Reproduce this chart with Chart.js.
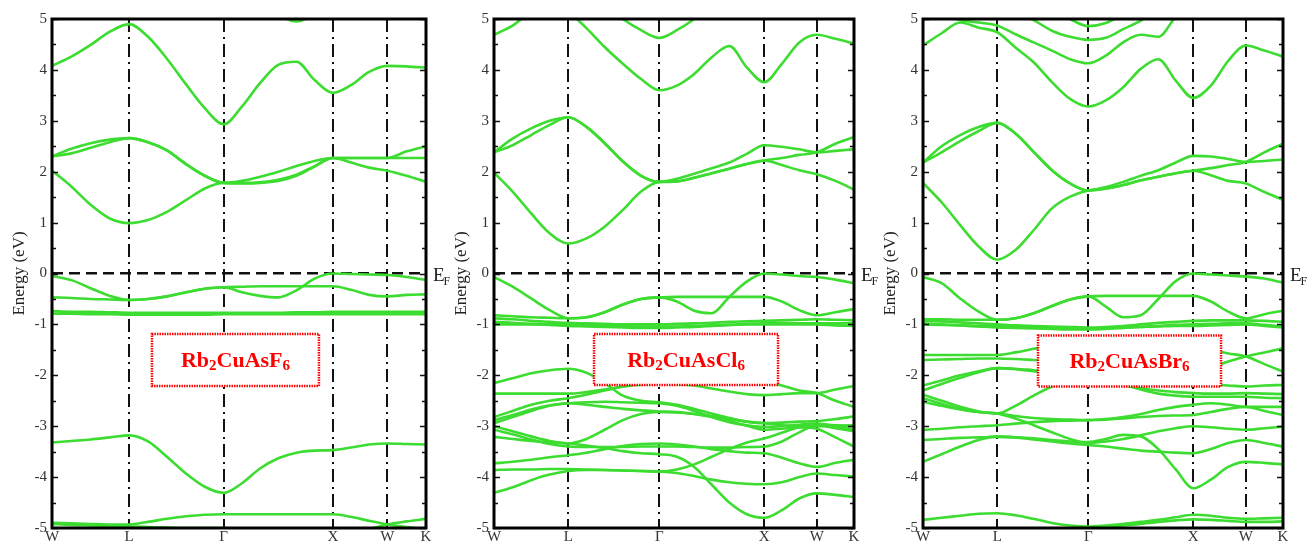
<!DOCTYPE html>
<html>
<head>
<meta charset="utf-8">
<script src="https://cdn.jsdelivr.net/npm/chart.js@4.4.1/dist/chart.umd.min.js"></script>
<style>
    html, body { margin: 0; padding: 0; background: #fff; }
    #wrap { position: relative; width: 1316px; height: 545px; overflow: hidden; }
    #wrap canvas { position: absolute; top: 0; }
</style>
</head>
<body>
<div id="wrap">
    <canvas id="c-f6" width="470" height="545" style="left:0px"></canvas>
    <canvas id="c-cl6" width="470" height="545" style="left:440px"></canvas>
    <canvas id="c-br6" width="447" height="545" style="left:869px"></canvas>
</div>
<script>
// k-path W-L-Γ-X-W-K (units of 2π/a), sample points shared by every band
const kGrid = [0, 0.177, 0.354, 0.530, 0.707, 0.880, 1.053, 1.227, 1.400, 1.573, 1.740,
               1.906, 2.073, 2.240, 2.406, 2.573, 2.740, 2.906, 3.073, 3.250, 3.427];
const kTicks = [0, 0.707, 1.573, 2.573, 3.073, 3.427];
const kLabels = ['W', 'L', 'Γ', 'X', 'W', 'K'];
const energyTicks = [-5, -4, -3, -2, -1, 0, 1, 2, 3, 4, 5];

// Rb2CuAsF6
const f6Conduction = [
    [2.30, 2.45, 2.56, 2.63, 2.66, 2.58, 2.42, 2.15, 1.92, 1.78, 1.82, 1.90, 2.00, 2.11, 2.21, 2.27, 2.27, 2.27, 2.27, 2.27, 2.27],
    [2.30, 2.36, 2.47, 2.58, 2.66, 2.58, 2.42, 2.15, 1.92, 1.78, 1.77, 1.78, 1.82, 1.92, 2.10, 2.27, 2.18, 2.08, 2.02, 1.92, 1.80],
    [2.02, 1.71, 1.35, 1.08, 0.99, 1.05, 1.21, 1.44, 1.67, 1.78, 1.78, 1.79, 1.84, 1.94, 2.11, 2.27, 2.27, 2.27, 2.27, 2.40, 2.50],
    [4.08, 4.26, 4.49, 4.75, 4.90, 4.65, 4.22, 3.72, 3.25, 2.93, 3.28, 3.74, 4.10, 4.16, 3.80, 3.55, 3.70, 3.96, 4.08, 4.07, 4.04],
    [5.3, 5.3, 5.3, 5.3, 5.3, 5.3, 5.3, 5.3, 5.3, 5.3, 5.3, 5.25, 5.08, 4.95, 5.1, 5.3, 5.3, 5.3, 5.3, 5.3, 5.3]
];
const f6Valence = [
    [-0.05, -0.13, -0.29, -0.44, -0.52, -0.50, -0.45, -0.37, -0.30, -0.27, -0.37, -0.44, -0.47, -0.33, -0.10, 0.00, -0.01, -0.02, -0.03, -0.07, -0.13],
    [-0.47, -0.48, -0.50, -0.51, -0.52, -0.50, -0.45, -0.37, -0.30, -0.27, -0.26, -0.25, -0.25, -0.25, -0.25, -0.25, -0.32, -0.42, -0.45, -0.42, -0.41],
    [-0.74, -0.75, -0.75, -0.76, -0.77, -0.77, -0.77, -0.77, -0.77, -0.77, -0.77, -0.77, -0.77, -0.76, -0.76, -0.75, -0.75, -0.75, -0.75, -0.75, -0.75],
    [-0.79, -0.79, -0.80, -0.80, -0.81, -0.81, -0.81, -0.81, -0.81, -0.80, -0.80, -0.80, -0.80, -0.80, -0.80, -0.80, -0.80, -0.80, -0.80, -0.80, -0.80],
    [-3.32, -3.29, -3.26, -3.22, -3.18, -3.30, -3.60, -3.93, -4.19, -4.31, -4.12, -3.83, -3.63, -3.52, -3.48, -3.47, -3.42, -3.36, -3.34, -3.35, -3.36],
    [-4.90, -4.91, -4.92, -4.93, -4.93, -4.88, -4.82, -4.77, -4.74, -4.73, -4.73, -4.73, -4.73, -4.73, -4.73, -4.73, -4.78, -4.86, -4.93, -4.98, -5.03],
    [-4.92, -4.94, -4.95, -4.96, -4.97, -4.98, -4.99, -5.00, -5.00, -5.00, -5.02, -5.05, -5.10, -5.15, -5.18, -5.20, -5.12, -5.02, -4.93, -4.87, -4.82]
];

// Rb2CuAsCl6
const cl6Conduction = [
    [2.38, 2.65, 2.85, 3.00, 3.07, 2.88, 2.56, 2.20, 1.92, 1.80, 1.86, 1.96, 2.07, 2.18, 2.35, 2.52, 2.49, 2.44, 2.38, 2.41, 2.44],
    [2.38, 2.52, 2.72, 2.92, 3.07, 2.88, 2.56, 2.20, 1.92, 1.80, 1.81, 1.88, 1.97, 2.06, 2.15, 2.22, 2.13, 2.03, 1.95, 1.82, 1.65],
    [1.98, 1.61, 1.18, 0.79, 0.59, 0.69, 0.92, 1.25, 1.61, 1.80, 1.81, 1.88, 1.97, 2.06, 2.15, 2.22, 2.27, 2.33, 2.38, 2.55, 2.68],
    [5.6, 5.6, 5.6, 5.5, 5.16, 4.82, 4.45, 4.12, 3.82, 3.60, 3.69, 3.92, 4.25, 4.47, 4.05, 3.76, 4.12, 4.54, 4.69, 4.61, 4.52],
    [4.69, 4.87, 5.15, 5.35, 5.5, 5.6, 5.6, 5.6, 5.6, 5.6, 5.6, 5.6, 5.6, 5.6, 5.6, 5.6, 5.6, 5.6, 5.6, 5.6, 5.6],
    [5.6, 5.6, 5.6, 5.6, 5.6, 5.5, 5.3, 5.0, 4.78, 4.63, 4.78, 5.0, 5.3, 5.5, 5.6, 5.6, 5.6, 5.6, 5.6, 5.6, 5.6]
];
const cl6Valence = [
    [-0.07, -0.26, -0.49, -0.72, -0.88, -0.86, -0.76, -0.61, -0.50, -0.47, -0.55, -0.73, -0.78, -0.46, -0.16, 0.00, -0.02, -0.05, -0.07, -0.12, -0.19],
    [-0.82, -0.84, -0.86, -0.87, -0.88, -0.86, -0.76, -0.61, -0.50, -0.47, -0.46, -0.46, -0.46, -0.46, -0.46, -0.46, -0.55, -0.72, -0.82, -0.76, -0.70],
    [-0.88, -0.90, -0.93, -0.95, -0.97, -0.98, -0.99, -1.00, -1.00, -1.00, -0.99, -0.98, -0.97, -0.95, -0.94, -0.93, -0.92, -0.91, -0.90, -0.91, -0.92],
    [-0.95, -0.97, -0.99, -1.01, -1.03, -1.04, -1.05, -1.06, -1.07, -1.07, -1.06, -1.05, -1.03, -1.01, -0.99, -0.98, -0.98, -0.98, -0.98, -0.98, -0.98],
    [-1.00, -1.00, -1.00, -1.00, -1.00, -1.01, -1.02, -1.03, -1.04, -1.04, -1.04, -1.03, -1.02, -1.01, -1.00, -1.00, -1.00, -1.00, -1.00, -1.02, -1.03],
    [-2.15, -2.06, -1.96, -1.90, -1.87, -1.95, -2.15, -2.40, -2.50, -2.53, -2.58, -2.66, -2.75, -2.84, -2.91, -2.94, -2.93, -2.91, -2.90, -2.86, -2.81],
    [-2.36, -2.36, -2.36, -2.36, -2.36, -2.33, -2.28, -2.22, -2.18, -2.16, -2.17, -2.20, -2.26, -2.32, -2.37, -2.39, -2.37, -2.35, -2.35, -2.28, -2.21],
    [-2.82, -2.70, -2.58, -2.50, -2.45, -2.38, -2.30, -2.22, -2.17, -2.15, -2.14, -2.13, -2.12, -2.12, -2.12, -2.13, -2.20, -2.30, -2.35, -2.50, -2.62],
    [-2.88, -2.78, -2.67, -2.59, -2.55, -2.53, -2.52, -2.53, -2.54, -2.55, -2.60, -2.70, -2.82, -2.92, -2.98, -3.01, -3.00, -2.97, -2.95, -3.00, -3.07],
    [-2.94, -2.82, -2.70, -2.60, -2.55, -2.58, -2.62, -2.66, -2.69, -2.71, -2.72, -2.76, -2.82, -2.90, -2.99, -3.07, -3.05, -3.02, -3.00, -2.99, -2.98],
    [-3.00, -3.10, -3.20, -3.29, -3.34, -3.25, -3.07, -2.88, -2.76, -2.72, -2.73, -2.76, -2.80, -2.86, -2.91, -2.94, -2.98, -3.02, -3.05, -3.22, -3.40],
    [-3.07, -3.16, -3.26, -3.35, -3.40, -3.41, -3.41, -3.41, -3.40, -3.40, -3.40, -3.41, -3.42, -3.42, -3.41, -3.40, -3.30, -3.12, -2.98, -3.04, -3.10],
    [-3.21, -3.25, -3.29, -3.32, -3.34, -3.38, -3.43, -3.49, -3.53, -3.55, -3.60, -3.80, -4.15, -4.50, -4.73, -4.80, -4.65, -4.42, -4.32, -4.35, -4.39],
    [-3.73, -3.70, -3.66, -3.61, -3.57, -3.52, -3.45, -3.39, -3.35, -3.34, -3.36, -3.40, -3.45, -3.49, -3.52, -3.53, -3.62, -3.73, -3.80, -3.72, -3.66],
    [-3.86, -3.85, -3.85, -3.84, -3.84, -3.85, -3.86, -3.87, -3.88, -3.89, -3.92, -3.98, -4.05, -4.10, -4.13, -4.14, -4.10, -4.00, -3.93, -3.96, -3.99],
    [-4.31, -4.20, -4.06, -3.95, -3.88, -3.86, -3.86, -3.87, -3.88, -3.89, -3.85, -3.75, -3.60, -3.45, -3.32, -3.24, -3.13, -3.02, -2.97, -2.98, -3.00]
];

// Rb2CuAsBr6
const br6Conduction = [
    [2.18, 2.50, 2.72, 2.88, 2.96, 2.75, 2.39, 2.03, 1.77, 1.63, 1.70, 1.80, 1.92, 2.03, 2.18, 2.31, 2.30, 2.25, 2.19, 2.21, 2.24],
    [2.18, 2.38, 2.60, 2.80, 2.96, 2.75, 2.39, 2.03, 1.77, 1.63, 1.67, 1.74, 1.83, 1.90, 1.97, 2.02, 1.93, 1.82, 1.77, 1.60, 1.45],
    [1.78, 1.40, 0.95, 0.53, 0.27, 0.46, 0.85, 1.28, 1.51, 1.63, 1.67, 1.74, 1.83, 1.90, 1.97, 2.02, 2.07, 2.13, 2.19, 2.38, 2.55],
    [4.48, 4.72, 4.93, 4.83, 4.74, 4.44, 4.15, 3.76, 3.43, 3.28, 3.40, 3.66, 4.02, 4.21, 3.79, 3.45, 3.69, 4.18, 4.48, 4.38, 4.26],
    [5.3, 5.1, 4.98, 4.93, 4.87, 4.70, 4.54, 4.38, 4.21, 4.13, 4.28, 4.54, 4.69, 4.65, 5.05, 5.4, 5.6, 5.6, 5.6, 5.6, 5.6],
    [5.6, 5.6, 5.5, 5.4, 5.3, 5.15, 4.98, 4.77, 4.65, 4.59, 4.63, 4.80, 4.97, 5.2, 5.4, 5.6, 5.6, 5.6, 5.6, 5.6, 5.6],
    [5.6, 5.6, 5.6, 5.6, 5.5, 5.4, 5.3, 5.2, 5.0, 4.86, 4.92, 5.1, 5.3, 5.5, 5.6, 5.6, 5.6, 5.6, 5.6, 5.6, 5.6]
];
const br6Valence = [
    [-0.07, -0.19, -0.49, -0.75, -0.91, -0.88, -0.78, -0.64, -0.51, -0.45, -0.65, -0.86, -0.82, -0.50, -0.15, 0.00, -0.02, -0.04, -0.06, -0.10, -0.18],
    [-0.90, -0.90, -0.91, -0.91, -0.91, -0.88, -0.78, -0.64, -0.51, -0.45, -0.44, -0.44, -0.44, -0.44, -0.44, -0.44, -0.55, -0.75, -0.88, -0.80, -0.73],
    [-0.92, -0.94, -0.96, -0.98, -1.00, -1.02, -1.03, -1.04, -1.05, -1.06, -1.05, -1.03, -1.00, -0.97, -0.95, -0.93, -0.92, -0.92, -0.92, -0.93, -0.95],
    [-0.98, -1.00, -1.02, -1.04, -1.06, -1.07, -1.08, -1.09, -1.10, -1.10, -1.09, -1.07, -1.05, -1.03, -1.01, -1.00, -0.99, -0.98, -0.98, -1.01, -1.04],
    [-1.00, -1.01, -1.02, -1.03, -1.03, -1.04, -1.05, -1.06, -1.07, -1.08, -1.07, -1.06, -1.05, -1.04, -1.03, -1.03, -1.02, -1.01, -1.00, -1.03, -1.06],
    [-1.60, -1.60, -1.60, -1.60, -1.60, -1.55, -1.48, -1.42, -1.40, -1.40, -1.40, -1.40, -1.40, -1.40, -1.42, -1.45, -1.50, -1.57, -1.63, -1.78, -1.93],
    [-1.70, -1.69, -1.68, -1.67, -1.67, -1.68, -1.70, -1.72, -1.74, -1.75, -1.78, -1.82, -1.87, -1.92, -1.95, -1.95, -1.85, -1.73, -1.63, -1.55, -1.47],
    [-2.20, -2.10, -2.00, -1.92, -1.86, -1.87, -1.90, -1.93, -1.95, -1.96, -1.98, -2.02, -2.07, -2.12, -2.15, -2.16, -2.18, -2.20, -2.22, -2.20, -2.19],
    [-2.30, -2.17, -2.05, -1.94, -1.86, -1.88, -1.92, -1.98, -2.02, -2.05, -2.10, -2.18, -2.25, -2.30, -2.33, -2.35, -2.36, -2.36, -2.35, -2.36, -2.37],
    [-2.38, -2.50, -2.62, -2.71, -2.75, -2.60, -2.40, -2.22, -2.10, -2.05, -2.10, -2.18, -2.28, -2.36, -2.40, -2.42, -2.42, -2.42, -2.42, -2.44, -2.45],
    [-2.45, -2.56, -2.66, -2.72, -2.75, -2.80, -2.84, -2.86, -2.87, -2.88, -2.86, -2.82, -2.76, -2.68, -2.62, -2.58, -2.55, -2.58, -2.62, -2.62, -2.62],
    [-2.52, -2.60, -2.67, -2.72, -2.75, -2.85, -2.98, -3.12, -3.25, -3.33, -3.30, -3.25, -3.18, -3.10, -3.04, -3.00, -3.02, -3.05, -3.07, -3.04, -3.01],
    [-3.07, -3.05, -3.02, -3.00, -2.98, -2.95, -2.92, -2.90, -2.89, -2.88, -2.87, -2.85, -2.82, -2.80, -2.79, -2.78, -2.72, -2.66, -2.62, -2.70, -2.78],
    [-3.27, -3.25, -3.23, -3.22, -3.21, -3.22, -3.24, -3.27, -3.30, -3.31, -3.25, -3.17, -3.20, -3.45, -3.85, -4.22, -4.05, -3.80, -3.70, -3.72, -3.75],
    [-3.70, -3.55, -3.40, -3.27, -3.20, -3.22, -3.26, -3.30, -3.34, -3.37, -3.40, -3.44, -3.48, -3.50, -3.52, -3.53, -3.45, -3.33, -3.27, -3.33, -3.40],
    [-4.84, -4.80, -4.76, -4.72, -4.71, -4.75, -4.82, -4.90, -4.95, -4.97, -4.95, -4.92, -4.88, -4.84, -4.79, -4.74, -4.76, -4.80, -4.82, -4.81, -4.80],
    [-5.20, -5.20, -5.18, -5.16, -5.15, -5.12, -5.08, -5.05, -5.02, -5.00, -4.98, -4.95, -4.92, -4.88, -4.85, -4.83, -4.84, -4.86, -4.88, -4.88, -4.87]
];

const FONT = "'Liberation Serif', 'Times New Roman', serif";
const GREEN = '#3cdc30';
Chart.defaults.font.family = FONT;

// label drawn as [text, isSubscript] runs
const panels = [
    { id: 'c-f6', yWidth: 52, padRight: 44, titlePad: 9,
      bands: f6Conduction.concat(f6Valence),
      name: [['Rb', 0], ['2', 1], ['CuAsF', 0], ['6', 1]], boxAt: [1.681, -1.70], boxSize: [167, 52] },
    { id: 'c-cl6', yWidth: 54, padRight: 56, titlePad: 11,
      bands: cl6Conduction.concat(cl6Valence),
      name: [['Rb', 0], ['2', 1], ['CuAsCl', 0], ['6', 1]], boxAt: [1.828, -1.69], boxSize: [184, 51] },
    { id: 'c-br6', yWidth: 54, padRight: 33, titlePad: 11,
      bands: br6Conduction.concat(br6Valence),
      name: [['Rb', 0], ['2', 1], ['CuAsBr', 0], ['6', 1]], boxAt: [1.966, -1.72], boxSize: [183, 51] }
];

const framePlugin = {
    id: 'frame',
    afterDatasetsDraw(chart, args, opts) {
        const { ctx, chartArea: a, scales: { x, y } } = chart;
        ctx.save();

        // inward tick marks on left and right
        ctx.strokeStyle = '#111';
        ctx.lineWidth = 1.5;
        ctx.beginPath();
        for (let v = -5; v <= 5; v += 0.5) {
            const py = Math.round(y.getPixelForValue(v)) + 0.5;
            const len = Number.isInteger(v) ? 6 : 4;
            ctx.moveTo(a.left, py); ctx.lineTo(a.left + len, py);
            ctx.moveTo(a.right, py); ctx.lineTo(a.right - len, py);
        }
        ctx.stroke();

        // frame
        ctx.lineWidth = 3;
        ctx.strokeStyle = '#000';
        ctx.strokeRect(a.left, a.top, a.right - a.left, a.bottom - a.top);

        // E_F label
        const y0 = y.getPixelForValue(0);
        ctx.fillStyle = '#222';
        ctx.textBaseline = 'alphabetic';
        ctx.textAlign = 'left';
        ctx.font = '19px ' + FONT;
        ctx.fillText('E', a.right + 7, y0 + 7);
        const ew = ctx.measureText('E').width;
        ctx.font = '12px ' + FONT;
        ctx.fillText('F', a.right + 7 + ew - 1, y0 + 11);

        // compound label box
        const p = opts.panel;
        const cx = x.getPixelForValue(p.boxAt[0]);
        const cy = y.getPixelForValue(p.boxAt[1]);
        const [bw, bh] = p.boxSize;
        ctx.fillStyle = '#fff';
        ctx.fillRect(cx - bw / 2, cy - bh / 2, bw, bh);
        ctx.strokeStyle = '#ff0000';
        ctx.lineWidth = 2.5;
        ctx.setLineDash([1.5, 1]);
        ctx.strokeRect(cx - bw / 2, cy - bh / 2, bw, bh);
        ctx.setLineDash([]);

        const mainFont = 'bold 22px ' + FONT;
        const subFont = 'bold 15px ' + FONT;
        let total = 0;
        p.name.forEach(([t, sub]) => {
            ctx.font = sub ? subFont : mainFont;
            total += ctx.measureText(t).width;
        });
        let tx = cx - total / 2;
        ctx.fillStyle = '#ff0000';
        p.name.forEach(([t, sub]) => {
            ctx.font = sub ? subFont : mainFont;
            ctx.fillText(t, tx, cy + 7 + (sub ? 3 : 0));
            tx += ctx.measureText(t).width;
        });
        ctx.restore();
    }
};

panels.forEach(p => {
    const datasets = p.bands.map(b => ({
        data: kGrid.map((k, i) => ({ x: k, y: b[i] })),
        borderColor: GREEN,
        borderWidth: 2.6,
        pointRadius: 0,
        fill: false,
        cubicInterpolationMode: 'monotone'
    }));

    new Chart(document.getElementById(p.id), {
        type: 'line',
        data: { datasets },
        options: {
            responsive: false,
            animation: false,
            events: [],
            layout: { padding: { left: 0, right: p.padRight, top: 19, bottom: 0 } },
            plugins: {
                legend: { display: false },
                tooltip: { enabled: false },
                frame: { panel: p }
            },
            scales: {
                x: {
                    type: 'linear',
                    min: kTicks[0],
                    max: kTicks[kTicks.length - 1],
                    afterBuildTicks: (scale) => { scale.ticks = kTicks.map(v => ({ value: v })); },
                    afterFit: (scale) => { scale.height = 17; },
                    ticks: {
                        autoSkip: false,
                        maxRotation: 0,
                        padding: 0,
                        color: '#333',
                        font: { size: 15 },
                        callback: (v, i) => kLabels[i]
                    },
                    grid: {
                        drawTicks: false,
                        lineWidth: 2,
                        color: (c) => (c.index > 0 && c.index < kTicks.length - 1) ? '#111' : 'rgba(0,0,0,0)'
                    },
                    border: { display: false, dash: [13, 5, 2, 5] }
                },
                y: {
                    min: -5,
                    max: 5,
                    afterBuildTicks: (scale) => { scale.ticks = energyTicks.map(v => ({ value: v })); },
                    afterFit: (scale) => { scale.width = p.yWidth; },
                    ticks: {
                        padding: 5,
                        color: '#333',
                        font: { size: 15 }
                    },
                    grid: {
                        drawTicks: false,
                        lineWidth: 2.5,
                        color: (c) => (c.tick && c.tick.value === 0) ? '#111' : 'rgba(0,0,0,0)'
                    },
                    border: { display: false, dash: [11, 6] },
                    title: {
                        display: true,
                        text: 'Energy (eV)',
                        color: '#222',
                        font: { size: 17 },
                        padding: { top: p.titlePad, bottom: 0 }
                    }
                }
            }
        },
        plugins: [framePlugin]
    });
});
</script>
</body>
</html>
